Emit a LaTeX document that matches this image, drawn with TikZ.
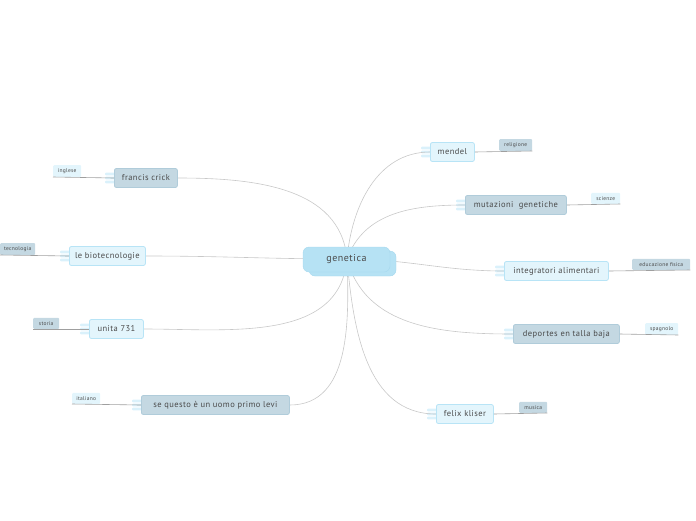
\documentclass[tikz,border=0pt]{standalone}
\usepackage{fontspec}
\setmainfont{PT Sans}[LetterSpace=5]
\usetikzlibrary{backgrounds}
\definecolor{gfill}{HTML}{C4D8E2}
\definecolor{gdraw}{HTML}{B0CCDA}
\definecolor{lfill}{HTML}{E3F5FC}
\definecolor{ldraw}{HTML}{B8E4F6}
\definecolor{cfill}{HTML}{B6E2F4}
\definecolor{cdraw}{HTML}{A6D8EE}
\definecolor{txt}{HTML}{4A4A4A}
\definecolor{conn}{HTML}{C8C8C8}
\tikzset{
  topicg/.style={draw=gdraw,fill=gfill,rounded corners=2pt,line width=0.8pt,minimum height=19pt,inner xsep=2pt,font=\fontsize{8.5}{9}\selectfont,text=txt,anchor=west},
  topicl/.style={draw=ldraw,fill=lfill,rounded corners=2pt,line width=0.8pt,minimum height=19pt,inner xsep=2pt,font=\fontsize{8.5}{9}\selectfont,text=txt,anchor=west},
  tagg/.style={fill=gfill,rounded corners=1pt,minimum height=11pt,inner xsep=1pt,font=\fontsize{5.5}{6}\selectfont,text=txt,anchor=south west},
  tagl/.style={fill=lfill,rounded corners=1pt,minimum height=11pt,inner xsep=1pt,font=\fontsize{5.5}{6}\selectfont,text=txt,anchor=south west},
  connector/.style={draw=conn,line width=0.6pt},
  tagline/.style={draw=gray!75,line width=0.6pt},
}
\newcommand{\tabsof}[2]{%
  \foreach \dy in {-4,0,4}{
    \fill[#2,rounded corners=1pt] ([xshift=-9pt,yshift=\dy pt-1.3pt]#1.west) rectangle ([xshift=2pt,yshift=\dy pt+1.3pt]#1.west);
  }}
\begin{document}
\begin{tikzpicture}[x=1pt,y=-1pt]
\useasboundingbox (0,0) rectangle (696,520);
% center
\node[draw=cdraw,fill=cfill,rounded corners=6pt,minimum width=87pt,minimum height=25pt] (gs) at (352.5,263.5) {};
\node[draw=cdraw,fill=cfill,rounded corners=6pt,minimum width=87pt,minimum height=25pt,font=\fontsize{10}{11}\selectfont,text=txt] (g) at (346.5,259.5) {genetica};
\coordinate (gc) at (347,259);
% topics
\node[topicg,minimum width=63pt] (fc) at (114,178) {francis crick};
\node[topicl,minimum width=76pt] (bio) at (69,256) {le biotecnologie};
\node[topicl,minimum width=54pt] (un) at (89,329) {unita 731};
\node[topicg,minimum width=148pt] (sq) at (141,405) {se questo è un uomo primo levi};
\node[topicl,minimum width=44pt] (me) at (430,152) {mendel};
\node[topicg,minimum width=101pt] (mu) at (465,205) {mutazioni\ \ genetiche};
\node[topicl,minimum width=104pt] (in) at (504,271) {integratori alimentari};
\node[topicg,minimum width=106pt] (de) at (513,334) {deportes en talla baja};
\node[topicl,minimum width=57pt] (fe) at (436,414) {felix kliser};
% tabs
\begin{scope}[on background layer]
\tabsof{fc}{lfill!80!ldraw}
\tabsof{bio}{lfill!80!ldraw}
\tabsof{un}{lfill!80!ldraw}
\tabsof{sq}{lfill!80!ldraw}
\tabsof{me}{lfill!80!ldraw}
\tabsof{mu}{lfill!80!ldraw}
\tabsof{in}{lfill!80!ldraw}
\tabsof{de}{lfill!80!ldraw}
\tabsof{fe}{lfill!80!ldraw}
% connectors
\draw[connector] (gc) to[out=95,in=0] (fc.east);
\draw[connector] (gc) to[out=180,in=0] (bio.east);
\draw[connector] (gc) to[out=-95,in=0] (un.east);
\draw[connector] (gc) to[out=-88,in=0] (sq.east);
\draw[connector] (gc) to[out=85,in=180] (me.west);
\draw[connector] (gc) to[out=70,in=180] (mu.west);
\draw[connector] (gc) to[out=0,in=180] (in.west);
\draw[connector] (gc) to[out=-75,in=180] (de.west);
\draw[connector] (gc) to[out=-85,in=180] (fe.west);
\end{scope}
% tags
\node[tagl,minimum width=28pt] (t1) at (53,177) {inglese};
\node[tagg,minimum width=35pt] (t2) at (0,255) {tecnologia};
\node[tagg,minimum width=26pt] (t3) at (33,329) {storia};
\node[tagl,minimum width=28pt] (t4) at (72,404) {italiano};
\node[tagg,minimum width=33pt] (t5) at (499,151) {religione};
\node[tagl,minimum width=29pt] (t6) at (591,204) {scienze};
\node[tagg,minimum width=58pt] (t7) at (632,270) {educazione fisica};
\node[tagl,minimum width=33pt] (t8) at (645,335) {spagnolo};
\node[tagg,minimum width=28pt] (t9) at (519,413) {musica};
% tag lines
\draw[tagline] (t1.south west) -- (fc.west);
\draw[tagline] (t2.south west) -- (bio.west);
\draw[tagline] (t3.south west) -- (un.west);
\draw[tagline] (t4.south west) -- (sq.west);
\draw[tagline] (me.east) -- (t5.south east);
\draw[tagline] (mu.east) -- (t6.south east);
\draw[tagline] (in.east) -- (t7.south east);
\draw[tagline] (de.east) -- (t8.south east);
\draw[tagline] (fe.east) -- (t9.south east);
\end{tikzpicture}
\end{document}
